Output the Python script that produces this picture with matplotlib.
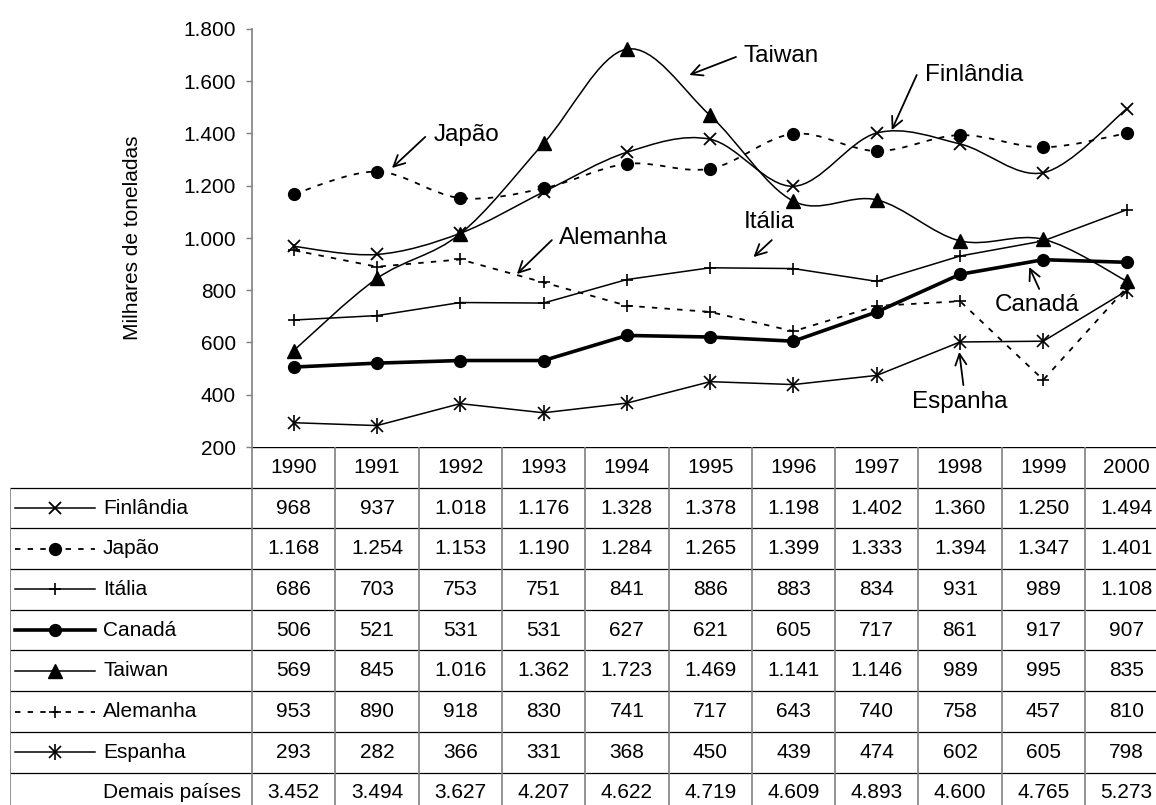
import matplotlib.pyplot as plt
from matplotlib.path import Path
from matplotlib.patches import PathPatch
from matplotlib.ticker import FuncFormatter

plt.rcParams['font.family'] = ['Liberation Sans', 'DejaVu Sans']

# production, thousands of tonnes
years = [1990, 1991, 1992, 1993, 1994, 1995, 1996, 1997, 1998, 1999, 2000]
finlandia = [968, 937, 1018, 1176, 1328, 1378, 1198, 1402, 1360, 1250, 1494]
japao = [1168, 1254, 1153, 1190, 1284, 1265, 1399, 1333, 1394, 1347, 1401]
italia = [686, 703, 753, 751, 841, 886, 883, 834, 931, 989, 1108]
canada = [506, 521, 531, 531, 627, 621, 605, 717, 861, 917, 907]
taiwan = [569, 845, 1016, 1362, 1723, 1469, 1141, 1146, 989, 995, 835]
alemanha = [953, 890, 918, 830, 741, 717, 643, 740, 758, 457, 810]
espanha = [293, 282, 366, 331, 368, 450, 439, 474, 602, 605, 798]
demais = [3452, 3494, 3627, 4207, 4622, 4719, 4609, 4893, 4600, 4765, 5273]

names = ['Finlândia', 'Japão', 'Itália', 'Canadá', 'Taiwan', 'Alemanha', 'Espanha']
series = [finlandia, japao, italia, canada, taiwan, alemanha, espanha]

DASH = (0, (3, 4))
# linestyle, linewidth, marker kind, smoothed
styles = [
    ('-', 1.1, 'x', True),
    (DASH, 1.3, 'o', True),
    ('-', 1.1, '+', False),
    ('-', 2.6, 'o', False),
    ('-', 1.1, '^', True),
    (DASH, 1.3, '+', False),
    ('-', 1.1, 'star', False),
]


def fmt(v):
    return f'{int(v):,}'.replace(',', '.')


def smooth_path(xs, ys):
    # bezier through the points, catmull-rom style tangents
    pts = list(zip(xs, ys))
    n = len(pts)
    verts = [pts[0]]
    codes = [Path.MOVETO]
    for i in range(n - 1):
        p0 = pts[max(i - 1, 0)]
        p1 = pts[i]
        p2 = pts[i + 1]
        p3 = pts[min(i + 2, n - 1)]
        c1 = (p1[0] + (p2[0] - p0[0]) / 6, p1[1] + (p2[1] - p0[1]) / 6)
        c2 = (p2[0] - (p3[0] - p1[0]) / 6, p2[1] - (p3[1] - p1[1]) / 6)
        verts += [c1, c2, p2]
        codes += [Path.CURVE4] * 3
    return Path(verts, codes)


def draw_marks(axis, x, y, kind, clip=True):
    kw = dict(linestyle='none', color='black', clip_on=clip, zorder=4)
    if kind == 'o':
        axis.plot(x, y, marker='o', markersize=8.5, **kw)
    elif kind == '^':
        axis.plot(x, y, marker='^', markersize=9.5, **kw)
    elif kind == 'x':
        axis.plot(x, y, marker='x', markersize=8.5, mew=1.3, **kw)
    elif kind == '+':
        axis.plot(x, y, marker='+', markersize=9, mew=1.2, **kw)
    else:
        axis.plot(x, y, marker='x', markersize=8.5, mew=1.2, **kw)
        axis.plot(x, y, marker='|', markersize=12, mew=1.2, **kw)


W, H = 1156, 805
col_w = 83.3
left_px, top_px, bottom_px = 252, 29, 447
row_h = 40.7
leg_left = 10

fig = plt.figure(figsize=(W / 100, H / 100), dpi=100)
ax = fig.add_axes([left_px / W, 1 - bottom_px / H,
                   11 * col_w / W, (bottom_px - top_px) / H])
xs = list(range(len(years)))
ax.set_xlim(-0.5, 10.5)
ax.set_ylim(200, 1800)

for vals, (ls, lw, mk, smooth) in zip(series, styles):
    if smooth:
        ax.add_patch(PathPatch(smooth_path(xs, vals), fill=False,
                               edgecolor='black', lw=lw, linestyle=ls, zorder=3))
    else:
        ax.plot(xs, vals, color='black', lw=lw, linestyle=ls, zorder=3)
    draw_marks(ax, xs, vals, mk)

ax.set_yticks(range(200, 1801, 200))
ax.yaxis.set_major_formatter(FuncFormatter(lambda v, p: fmt(v)))
ax.set_xticks([])
ax.tick_params(axis='y', direction='out', length=4.5, width=1,
               color='#808080', labelsize=15, pad=7)
for s in ['top', 'right', 'bottom']:
    ax.spines[s].set_visible(False)
ax.spines['left'].set_color('#808080')
ax.spines['left'].set_linewidth(1.2)
ax.text(-0.13, 0.5, 'Milhares de toneladas', transform=ax.transAxes,
        rotation=90, ha='center', va='center', fontsize=15)

# labels with arrows: (text, text pos, arrow tail, arrow head)
notes = [
    ('Taiwan', (5.40, 1697), (5.31, 1693), (4.75, 1624)),
    ('Finlândia', (7.58, 1624), (7.48, 1624), (7.18, 1413)),
    ('Japão', (1.68, 1394), (1.58, 1387), (1.18, 1268)),
    ('Alemanha', (3.19, 1000), (3.10, 992), (2.68, 862)),
    ('Itália', (5.40, 1061), (5.74, 992), (5.52, 927)),
    ('Canadá', (8.42, 744), (8.95, 805), (8.83, 889)),
    ('Espanha', (7.42, 372), (8.04, 437), (7.99, 564)),
]
for label, tpos, tail, head in notes:
    ax.text(tpos[0], tpos[1], label, fontsize=17.5, ha='left', va='center')
    ax.annotate('', xy=head, xytext=tail,
                arrowprops=dict(arrowstyle='->,head_length=0.4,head_width=0.2',
                                lw=1.3, color='black', mutation_scale=20,
                                shrinkA=0, shrinkB=0))

# data table under the chart, same x scale as the plot
leg_x0 = -0.5 - (left_px - leg_left) / col_w
tab_right = left_px + 11 * col_w
tab = fig.add_axes([leg_left / W, 1 - (bottom_px + 9 * row_h) / H,
                    (tab_right - leg_left) / W, 9 * row_h / H])
tab.set_xlim(leg_x0, 10.5)
tab.set_ylim(9, 0)
tab.axis('off')

tab.hlines(0, -0.5, 10.5, color='black', lw=1)
tab.hlines(range(1, 10), leg_x0, 10.5, color='black', lw=0.9)
tab.vlines([x - 0.5 for x in range(12)], 0, 9, color='#808080', lw=1.2)
tab.vlines(leg_x0, 1, 9, color='#808080', lw=1.2)

for i, yr in enumerate(years):
    tab.text(i, 0.5, str(yr), ha='center', va='center', fontsize=15)

rows = series + [demais]
row_names = names + ['Demais países']
key_a = -0.5 - (left_px - 15) / col_w
key_b = -0.5 - (left_px - 95) / col_w
key_m = -0.5 - (left_px - 55) / col_w
name_x = -0.5 - (left_px - 103) / col_w
for r, (name, vals) in enumerate(zip(row_names, rows)):
    yc = r + 1.5
    for i, v in enumerate(vals):
        tab.text(i, yc, fmt(v), ha='center', va='center', fontsize=15)
    tab.text(name_x, yc, name, ha='left', va='center', fontsize=15)
    if r < len(styles):
        ls, lw, mk, smooth = styles[r]
        tab.plot([key_a, key_b], [yc, yc], color='black', lw=lw, linestyle=ls)
        draw_marks(tab, [key_m], [yc], mk, clip=False)

fig.savefig('out.png', dpi=100)
